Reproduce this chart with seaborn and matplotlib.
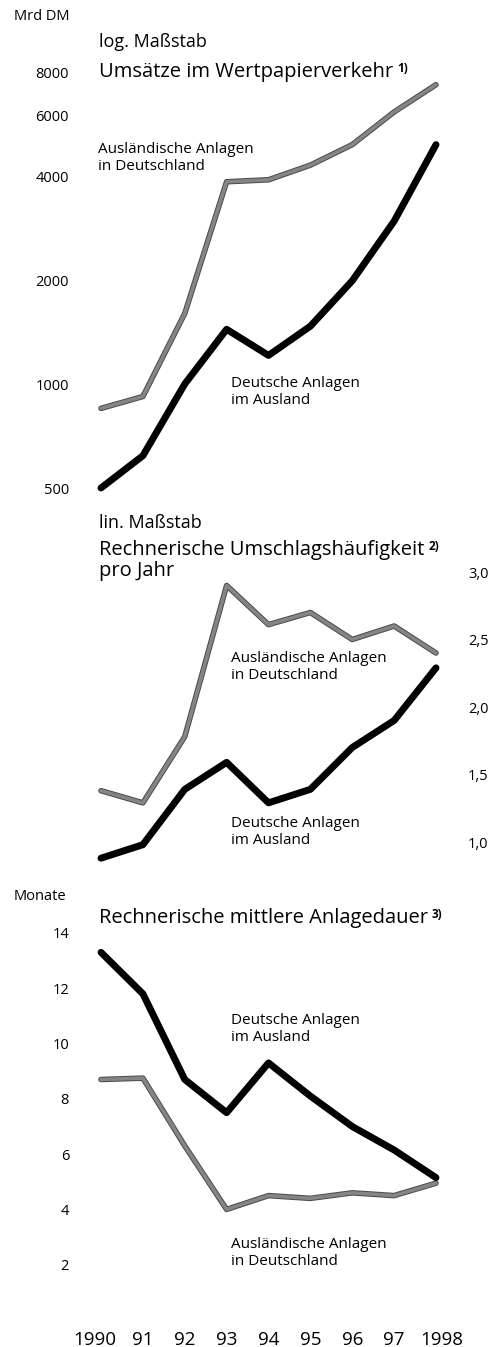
import numpy as np
import pandas as pd
import matplotlib
matplotlib.use("Agg")
import matplotlib.pyplot as plt
import matplotlib.patheffects as pe
import matplotlib.transforms as mtransforms
import seaborn as sns

# === Daten ===
jahre = [1990, 1991, 1992, 1993, 1994, 1995, 1996, 1997, 1998]
jahr_labels = ["1990", "91", "92", "93", "94", "95", "96", "97", "1998"]

# Umsätze im Wertpapierverkehr (Mrd DM, log.)
umsatz_ausl = [850, 920, 1600, 3850, 3900, 4300, 4930, 6130, 7350]
umsatz_dt = [500, 620, 1000, 1440, 1210, 1470, 1990, 2960, 4930]

# Rechnerische Umschlagshäufigkeit pro Jahr
umschlag_ausl = [1.38, 1.29, 1.78, 2.90, 2.61, 2.70, 2.50, 2.60, 2.40]
umschlag_dt = [0.88, 0.98, 1.39, 1.59, 1.29, 1.39, 1.70, 1.90, 2.29]

# Rechnerische mittlere Anlagedauer (Monate)
dauer_dt = [13.3, 11.8, 8.7, 7.5, 9.3, 8.1, 7.0, 6.15, 5.15]
dauer_ausl = [8.7, 8.75, 6.3, 4.0, 4.5, 4.4, 4.6, 4.5, 4.95]

ticks_umsatz = [500, 1000, 2000, 4000, 6000, 8000]
ticks_umschlag = [1.0, 1.5, 2.0, 2.5, 3.0]
ticks_dauer = [2, 4, 6, 8, 10, 12, 14]

# === Stil ===
sns.set_theme(style="white")
plt.rcParams["font.family"] = ["Open Sans", "DejaVu Sans"]
plt.rcParams["text.color"] = "black"
plt.rcParams["xtick.color"] = "black"
plt.rcParams["ytick.color"] = "black"

W, H = 491, 1347
fig = plt.figure(figsize=(W / 100, H / 100), dpi=100)


def frac(x, y):
    return x / W, 1 - y / H


def make_ax(top, bottom):
    ax = fig.add_axes([101 / W, 1 - bottom / H, 335 / W, (bottom - top) / H])
    ax.set_facecolor("white")
    sns.despine(ax=ax, left=True, bottom=True)
    ax.tick_params(length=0, labelsize=10.5)
    ax.set_xlim(1990, 1998)
    return ax


GRAU = dict(color="#858585", lw=2.6,
            path_effects=[pe.Stroke(linewidth=4.0, foreground="#4a4a4a"), pe.Normal()])
SCHWARZ = dict(color="black", lw=5.0)


def draw(ax, ausl, dt):
    df = pd.DataFrame({"Jahr": jahre, "ausl": ausl, "dt": dt})
    sns.lineplot(data=df, x="Jahr", y="ausl", ax=ax, clip_on=False, **GRAU)
    sns.lineplot(data=df, x="Jahr", y="dt", ax=ax, clip_on=False, **SCHWARZ)
    ax.set_xlabel("")
    ax.set_ylabel("")


# --- Panel 1: Umsätze (log.) ---
ax1 = make_ax(72, 488)
draw(ax1, umsatz_ausl, umsatz_dt)
ax1.set_yscale("log")
ax1.set_ylim(500, 8000)
ax1.set_yticks(ticks_umsatz)
ax1.set_yticklabels([str(t) for t in ticks_umsatz])
ax1.yaxis.set_minor_locator(matplotlib.ticker.NullLocator())
ax1.set_xticks([])
ax1.tick_params(axis="y", pad=23)

# --- Panel 2: Umschlagshäufigkeit (lin.) ---
ax2 = make_ax(572, 869)
draw(ax2, umschlag_ausl, umschlag_dt)
ax2.set_ylim(0.8, 3.0)
ax2.yaxis.tick_right()
ax2.set_yticks(ticks_umschlag)
ax2.set_yticklabels([f"{t:.1f}".replace(".", ",") for t in ticks_umschlag])
ax2.set_xticks([])
ax2.tick_params(axis="y", pad=23)

# --- Panel 3: Anlagedauer ---
ax3 = make_ax(933, 1320)
draw(ax3, dauer_ausl, dauer_dt)
ax3.set_ylim(0, 14)
ax3.set_yticks(ticks_dauer)
ax3.set_yticklabels([str(t) for t in ticks_dauer])
ax3.tick_params(axis="y", pad=23)
ax3.set_xticks(jahre)
ax3.set_xticklabels(jahr_labels, fontsize=13.5)
ax3.tick_params(axis="x", pad=8)
xl = ax3.get_xticklabels()
xl[0].set_transform(xl[0].get_transform() + mtransforms.ScaledTranslation(-6 / 100, 0, fig.dpi_scale_trans))
xl[-1].set_transform(xl[-1].get_transform() + mtransforms.ScaledTranslation(6 / 100, 0, fig.dpi_scale_trans))

# === Texte ===
LAB = dict(fontsize=11, va="center", linespacing=1.1)
TIT = dict(fontsize=14.5, va="center")

fig.text(*frac(14, 17), "Mrd DM", fontsize=10.5, va="center")
fig.text(*frac(99, 42), "log. Maßstab", fontsize=13, va="center")
t1 = fig.text(*frac(99, 72), "Umsätze im Wertpapierverkehr", **TIT)
fig.text(*frac(98, 158), "Ausländische Anlagen\nin Deutschland", **LAB)
fig.text(*frac(231, 392), "Deutsche Anlagen\nim Ausland", **LAB)

fig.text(*frac(99, 523), "lin. Maßstab", fontsize=13, va="center")
t2 = fig.text(*frac(99, 550), "Rechnerische Umschlagshäufigkeit", **TIT)
fig.text(*frac(99, 571), "pro Jahr", **TIT)
fig.text(*frac(231, 667), "Ausländische Anlagen\nin Deutschland", **LAB)
fig.text(*frac(231, 832), "Deutsche Anlagen\nim Ausland", **LAB)

fig.text(*frac(14, 896), "Monate", fontsize=10.5, va="center")
t3 = fig.text(*frac(99, 918), "Rechnerische mittlere Anlagedauer", **TIT)
fig.text(*frac(231, 1029), "Deutsche Anlagen\nim Ausland", **LAB)
fig.text(*frac(231, 1253), "Ausländische Anlagen\nin Deutschland", **LAB)

# Fußnotenzeichen hochgestellt hinter die Titel setzen
fig.canvas.draw()
renderer = fig.canvas.get_renderer()
for t, sup in [(t1, "1)"), (t2, "2)"), (t3, "3)")]:
    bb = t.get_window_extent(renderer)
    fig.text((bb.x1 + 4) / W, (bb.y1 - 7) / H, sup, fontsize=8.5, fontweight="bold", va="center")

fig.savefig("out.png", dpi=100, facecolor="white")
